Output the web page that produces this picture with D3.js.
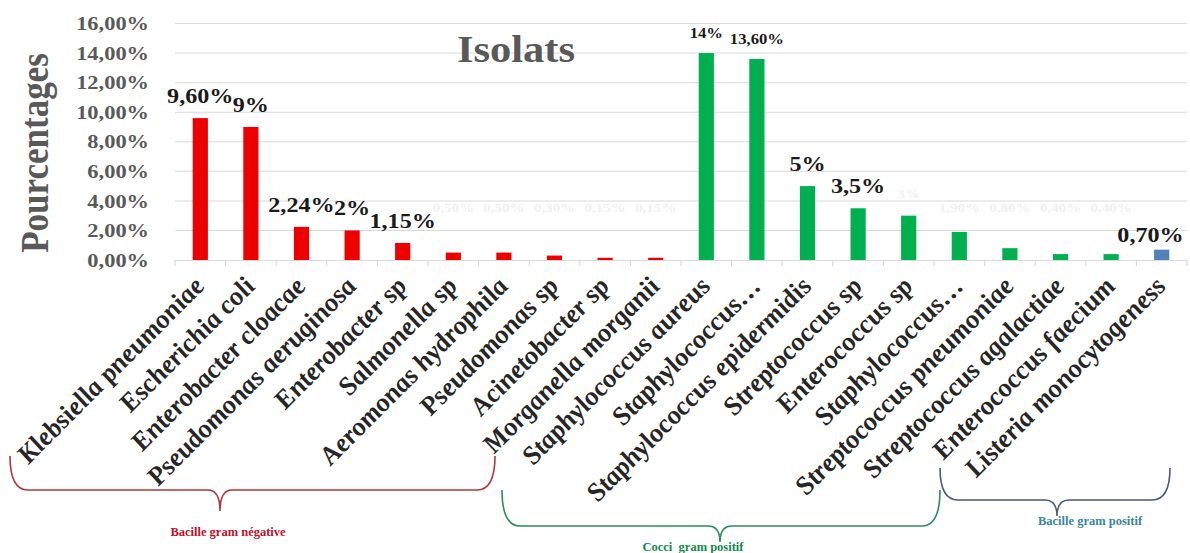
<!DOCTYPE html>
<html>
<head>
<meta charset="utf-8">
<script src="https://cdn.jsdelivr.net/npm/d3@7"></script>
<style>
  html, body { margin: 0; padding: 0; background: #ffffff; }
  svg { display: block; }
</style>
</head>
<body>
<svg id="chart" width="1190" height="553"></svg>
<script>
// ---- data ----------------------------------------------------------
const categories = [
  "Klebsiella pneumoniae", "Escherichia coli", "Enterobacter cloacae",
  "Pseudomonas aeruginosa", "Enterobacter sp", "Salmonella sp",
  "Aeromonas hydrophila", "Pseudomonas sp", "Acinetobacter sp",
  "Morganella morganii", "Staphylococcus aureus", "Staphylococcus…",
  "Staphylococcus epidermidis", "Streptococcus sp", "Enterococcus sp",
  "Staphylococcus…", "Streptococcus pneumoniae", "Streptococcus agalactiae",
  "Enterococcus faecium", "Listeria monocytogeness"
];
// percentage of isolates
const values = [9.6, 9, 2.24, 2, 1.15, 0.5, 0.5, 0.3, 0.15, 0.15,
                14, 13.6, 5, 3.5, 3, 1.9, 0.8, 0.4, 0.4, 0.7];
const valueLabels = ["9,60%", "9%", "2,24%", "2%", "1,15%", "0,50%", "0,50%", "0,30%", "0,15%", "0,15%",
                     "14%", "13,60%", "5%", "3,5%", "3%", "1,90%", "0,80%", "0,40%", "0,40%", "0,70%"];
// group index of each category
const groupOf = [0, 0, 0, 0, 0, 0, 0, 0, 0, 0,
                 1, 1, 1, 1, 1, 1, 1, 1, 1, 2];
const groupNames = ["Bacille gram négative", "Cocci  gram positif", "Bacille gram positif"];
const tickValues = [0, 2, 4, 6, 8, 10, 12, 14, 16];
const tickLabels = ["0,00%", "2,00%", "4,00%", "6,00%", "8,00%", "10,00%", "12,00%", "14,00%", "16,00%"];

// ---- styling -------------------------------------------------------
const barColors = ["#ee0000", "#00b050", "#4f81bd"];
const braceColors = ["#b2343a", "#2e8b63", "#4b5a78"];
const groupTextColors = ["#c0102a", "#138a4a", "#3a86a0"];
// label emphasis: 2 = large dark, 1 = small dark, 0 = faded
const labelStyle = [2, 2, 2, 2, 2, 0, 0, 0, 0, 0,
                    1, 1, 2, 2, 0, 0, 0, 0, 0, 2];

const SX = 1.15;               // horizontal stretch of the drawing
const X = v => v / SX;         // page x -> inner x
const serif = "'Liberation Serif', 'Times New Roman', serif";
const grey = "#595959";

const svg = d3.select("#chart");
const g = svg.append("g").attr("transform", `scale(${SX},1)`);

const plotLeft = X(175), plotRight = X(1187);
const yBase = 260, yTop = 23.5;

const x = d3.scaleBand().domain(d3.range(categories.length))
  .range([plotLeft, plotRight]).paddingInner(0.7).paddingOuter(0.35);
const band = d3.scaleBand().domain(d3.range(categories.length))
  .range([plotLeft, plotRight]);
const y = d3.scaleLinear().domain([0, 16]).range([yBase, yTop]);

// gridlines
g.append("g").selectAll("line").data(tickValues.slice(1)).join("line")
  .attr("x1", plotLeft).attr("x2", plotRight)
  .attr("y1", d => y(d)).attr("y2", d => y(d))
  .attr("stroke", "#d9d9d9").attr("stroke-width", 1);

// y axis labels
const yAxis = d3.axisLeft(y).tickValues(tickValues)
  .tickFormat((d, i) => tickLabels[i]).tickSize(0).tickPadding(0);
const yAx = g.append("g").attr("transform", `translate(${X(149)},0)`).call(yAxis);
yAx.select(".domain").remove();
yAx.selectAll("text")
  .attr("font-family", serif).attr("font-weight", "bold")
  .attr("font-size", 19.5).attr("fill", grey);

// axis title
g.append("text")
  .attr("transform", `translate(${X(48)},${153}) rotate(-90)`)
  .attr("text-anchor", "middle")
  .attr("font-family", serif).attr("font-weight", "bold")
  .attr("font-size", 35).attr("fill", grey)
  .text("Pourcentages");

// chart title
g.append("text")
  .attr("x", X(516)).attr("y", 62)
  .attr("text-anchor", "middle")
  .attr("font-family", serif).attr("font-weight", "bold")
  .attr("font-size", 37).attr("fill", grey)
  .text("Isolats");

// category axis line and boundary ticks
g.append("line").attr("x1", plotLeft).attr("x2", plotRight)
  .attr("y1", yBase + 0.5).attr("y2", yBase + 0.5)
  .attr("stroke", "#d9d9d9");
g.append("g").selectAll("line").data(d3.range(categories.length + 1)).join("line")
  .attr("x1", d => plotLeft + d * band.bandwidth())
  .attr("x2", d => plotLeft + d * band.bandwidth())
  .attr("y1", yBase).attr("y2", yBase + 6)
  .attr("stroke", "#d9d9d9");

// bars
g.append("g").selectAll("rect").data(values).join("rect")
  .attr("x", (d, i) => x(i))
  .attr("width", x.bandwidth())
  .attr("y", d => y(d))
  .attr("height", d => yBase - y(d))
  .attr("fill", (d, i) => barColors[groupOf[i]]);

// value labels
g.append("g").selectAll("text").data(values).join("text")
  .attr("x", (d, i) => x(i) + x.bandwidth() / 2)
  .attr("y", (d, i) => labelStyle[i] === 0 ? Math.min(y(d) - 18, 212) : y(d) - (i === 19 ? 8 : 15))
  .attr("text-anchor", (d, i) => i === 19 ? "end" : "middle")
  .attr("dx", (d, i) => i === 19 ? X(22) : 0)
  .attr("font-family", serif).attr("font-weight", "bold")
  .attr("font-size", (d, i) => labelStyle[i] === 2 ? 21 : labelStyle[i] === 1 ? 14.5 : 13)
  .attr("fill", (d, i) => labelStyle[i] === 0 ? "#f0f0f0" : "#1a1a1a")
  .text((d, i) => valueLabels[i]);

// rotated category labels
g.append("g").selectAll("text").data(categories).join("text")
  .attr("transform", (d, i) =>
    `translate(${x(i) + x.bandwidth() / 2 + X(6)},${287}) rotate(-49)`)
  .attr("text-anchor", "end")
  .attr("font-family", serif).attr("font-weight", "bold").attr("font-style", "italic")
  .attr("font-size", 25).attr("fill", "#262626")
  .text(d => d);

// group braces (page coordinates)
const braces = [
  { x0: 10,  x1: 495,  xc: 220,  yEnd: 456, yLine: 490, yCusp: 511, tx: 228,  ty: 536 },
  { x0: 502, x1: 940,  xc: 720,  yEnd: 490, yLine: 526, yCusp: 542, tx: 693,  ty: 551 },
  { x0: 940, x1: 1170, xc: 1057, yEnd: 468, yLine: 500, yCusp: 516, tx: 1090, ty: 525 }
];
function bracePath(b) {
  const r = 18, c = 12;
  const p = d3.path();
  p.moveTo(b.x0, b.yEnd);
  p.quadraticCurveTo(b.x0, b.yLine, b.x0 + r, b.yLine);
  p.lineTo(b.xc - c, b.yLine);
  p.quadraticCurveTo(b.xc, b.yLine, b.xc, b.yCusp);
  p.quadraticCurveTo(b.xc, b.yLine, b.xc + c, b.yLine);
  p.lineTo(b.x1 - r, b.yLine);
  p.quadraticCurveTo(b.x1, b.yLine, b.x1, b.yEnd);
  return p.toString();
}
const bg = svg.append("g");
bg.selectAll("path").data(braces).join("path")
  .attr("d", bracePath)
  .attr("fill", "none")
  .attr("stroke", (d, i) => braceColors[i])
  .attr("stroke-width", 1.6);
bg.selectAll("text").data(braces).join("text")
  .attr("x", d => d.tx).attr("y", d => d.ty)
  .attr("text-anchor", "middle")
  .attr("font-family", serif).attr("font-weight", "bold")
  .attr("font-size", 12.5)
  .attr("fill", (d, i) => groupTextColors[i])
  .attr("xml:space", "preserve")
  .text((d, i) => groupNames[i]);
</script>
</body>
</html>
